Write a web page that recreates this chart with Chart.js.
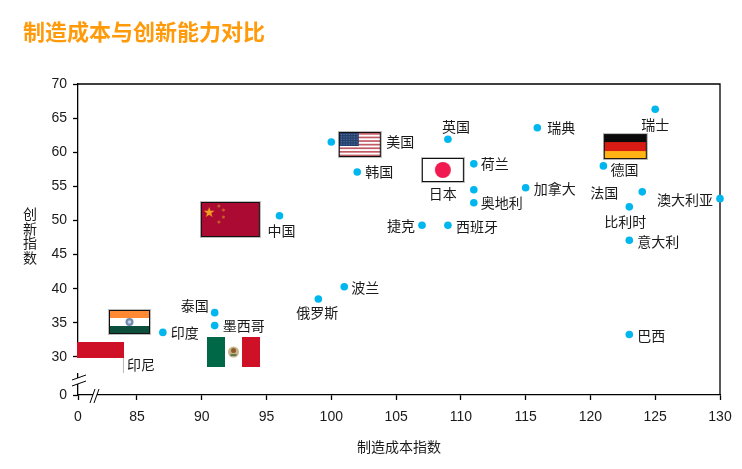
<!DOCTYPE html>
<html>
<head>
<meta charset="utf-8">
<title>制造成本与创新能力对比</title>
<script src="https://cdn.jsdelivr.net/npm/chart.js@4"></script>
<style>
  html, body { margin: 0; padding: 0; background: #fff; }
  canvas { display: block; }
</style>
</head>
<body>
<canvas id="grafico" width="742" height="469"></canvas>
<script>
// --- Datos ---
const paises = ['瑞士', '瑞典', '英国', '美国', '韩国', '荷兰', '德国', '加拿大', '日本', '奥地利', '法国', '比利时', '澳大利亚', '意大利', '巴西', '中国', '捷克', '西班牙', '波兰', '俄罗斯', '泰国', '墨西哥', '印度', '印尼'];
const costoManufactura = [125, 115.9, 109, 100, 102, 111, 121, 115, 111, 111, 124, 123, 130, 123, 123, 96, 107, 109, 101, 99, 91, 91, 87, 83];
const indiceInnovacion = [66.3, 63.6, 61.9, 61.5, 57.1, 58.3, 58, 54.8, 54.5, 52.6, 54.2, 52, 53.2, 47.1, 33.3, 50.7, 49.3, 49.3, 40.3, 38.5, 36.5, 34.6, 33.6, 30];

const ticksX = [85, 90, 95, 100, 105, 110, 115, 120, 125, 130];
const ticksY = [30, 35, 40, 45, 50, 55, 60, 65, 70];

// Centro de cada bandera, en unidades del gráfico
const banderas = ['中国', '美国', '日本', '德国', '印度', '印尼', '墨西哥'];
const banderasX = [92.21, 102.2, 108.61, 122.69, 84.42, 82.18, 92.45];
const banderasY = [50.15, 61.14, 57.4, 60.84, 35.13, 29.93, 30.73];

// El eje está cortado: el "0" se dibuja en el inicio de cada escala
const inicioX = 80.45;
const inicioY = 24.43;

// --- Estilos ---
const FUENTE_CJK = '"Noto Sans CJK SC", "Noto Sans", sans-serif';
const FUENTE_NUM = '"Liberation Sans", Arial, sans-serif';

// Desplazamiento (px) del texto respecto al punto
const offsetsEtiquetas = {
    '瑞士': [-14, 15], '瑞典': [10, 0], '英国': [-6, -13], '美国': [55, 0], '韩国': [8, 0],
    '荷兰': [7, 0], '德国': [7, 4], '加拿大': [8, 1], '日本': [-45, 4], '奥地利': [7, 0],
    '法国': [-52, 1], '比利时': [-25, 15], '澳大利亚': [-63, 1], '意大利': [8, 1], '巴西': [8, 1],
    '中国': [-12, 15], '捷克': [-35, 0], '西班牙': [8, 1], '波兰': [7, 1], '俄罗斯': [-22, 14],
    '泰国': [-34, -7], '墨西哥': [8, 0], '印度': [8, 0], '印尼': [16, 8]
};

// --- Banderas (se usan como pointStyle) ---
function lienzo(w, h, dibujar) {
    const c = document.createElement('canvas');
    c.width = w;
    c.height = h;
    dibujar(c.getContext('2d'), w, h);
    return c;
}

function marco(ctx, w, h) {
    ctx.strokeStyle = '#bdbdbd';
    ctx.lineWidth = 1;
    ctx.strokeRect(0.5, 0.5, w - 1, h - 1);
    ctx.strokeStyle = '#111';
    ctx.strokeRect(1.5, 1.5, w - 3, h - 3);
}

function crearBandera(nombre) {
    if (nombre === '中国') return lienzo(61, 37, (ctx, w, h) => {
        ctx.fillStyle = '#ab0a33';
        ctx.fillRect(0, 0, w, h);
        ctx.fillStyle = '#f0a020';
        ctx.font = '14px ' + FUENTE_NUM;
        ctx.textAlign = 'center';
        ctx.textBaseline = 'middle';
        ctx.fillText('★', 9.5, 12);
        ctx.fillStyle = '#c9602a';
        [[19, 5], [23.5, 9], [23.5, 16], [19, 21]].forEach(p => {
            ctx.beginPath();
            ctx.arc(p[0], p[1], 1.5, 0, Math.PI * 2);
            ctx.fill();
        });
        marco(ctx, w, h);
    });
    if (nombre === '美国') return lienzo(44, 27, (ctx, w, h) => {
        ctx.fillStyle = '#fff';
        ctx.fillRect(0, 0, w, h);
        ctx.fillStyle = '#c25a66';
        for (let i = 0; i < 7; i++) ctx.fillRect(0, 2 + i * 3.6, w, 1.7);
        ctx.fillStyle = '#24406f';
        ctx.fillRect(0, 0, 21, 15);
        ctx.fillStyle = '#6f82a6';
        for (let fila = 0; fila < 5; fila++) {
            for (let col = 0; col < 7; col++) ctx.fillRect(3 + col * 2.6, 3 + fila * 2.4, 1, 1);
        }
        marco(ctx, w, h);
    });
    if (nombre === '日本') return lienzo(44, 26, (ctx, w, h) => {
        ctx.fillStyle = '#fff';
        ctx.fillRect(0, 0, w, h);
        ctx.fillStyle = '#f01a50';
        ctx.beginPath();
        ctx.arc(w / 2, h / 2, 8, 0, Math.PI * 2);
        ctx.fill();
        marco(ctx, w, h);
    });
    if (nombre === '德国') return lienzo(45, 27, (ctx, w, h) => {
        ctx.fillStyle = '#0a0a0a';
        ctx.fillRect(0, 0, w, 9);
        ctx.fillStyle = '#d81c14';
        ctx.fillRect(0, 9, w, 9);
        ctx.fillStyle = '#ffb314';
        ctx.fillRect(0, 18, w, 9);
        marco(ctx, w, h);
    });
    if (nombre === '印度') return lienzo(43, 26, (ctx, w, h) => {
        ctx.fillStyle = '#ff8a33';
        ctx.fillRect(0, 0, w, 9);
        ctx.fillStyle = '#fff';
        ctx.fillRect(0, 9, w, 9);
        ctx.fillStyle = '#0b4f3c';
        ctx.fillRect(0, 17, w, 9);
        ctx.fillStyle = '#6f8cb0';
        ctx.beginPath();
        ctx.arc(w / 2, 13, 4, 0, Math.PI * 2);
        ctx.fill();
        ctx.fillStyle = '#c7d2e0';
        ctx.beginPath();
        ctx.arc(w / 2, 13, 1.8, 0, Math.PI * 2);
        ctx.fill();
        marco(ctx, w, h);
    });
    if (nombre === '印尼') return lienzo(47, 31, (ctx, w, h) => {
        ctx.fillStyle = '#fff';
        ctx.fillRect(0, 0, w, h);
        ctx.fillStyle = '#ce1126';
        ctx.fillRect(0, 0, w, 16);
        ctx.fillStyle = '#bdbdbd';
        ctx.fillRect(w - 1, 16, 1, h - 16);
    });
    return lienzo(53, 30, (ctx, w, h) => {
        ctx.fillStyle = '#fff';
        ctx.fillRect(0, 0, w, h);
        ctx.fillStyle = '#006847';
        ctx.fillRect(0, 0, 18, h);
        ctx.fillStyle = '#ce1126';
        ctx.fillRect(35, 0, 18, h);
        ctx.fillStyle = '#c9b48a';
        ctx.beginPath();
        ctx.arc(26.5, 15, 5.5, 0, Math.PI * 2);
        ctx.fill();
        ctx.fillStyle = '#8a5a2b';
        ctx.beginPath();
        ctx.arc(26.5, 13.5, 2.5, 0, Math.PI * 2);
        ctx.fill();
        ctx.fillStyle = '#5c7a4a';
        ctx.fillRect(23.5, 17, 6, 2);
    });
}

// --- Plugins ---
const pluginMarco = {
    id: 'marco',
    beforeDatasetsDraw(chart) {
        const { ctx, chartArea: a } = chart;
        ctx.save();
        ctx.strokeStyle = '#000';
        ctx.lineWidth = 1.3;
        ctx.beginPath();
        ctx.moveTo(a.left, a.top);
        ctx.lineTo(a.right, a.top);
        ctx.lineTo(a.right, a.bottom);
        ctx.stroke();
        ctx.restore();
    }
};

const pluginTextos = {
    id: 'textos',
    afterDatasetsDraw(chart) {
        const { ctx, scales } = chart;
        ctx.save();
        ctx.fillStyle = '#1a1a1a';
        ctx.font = '14px ' + FUENTE_CJK;
        ctx.textAlign = 'left';
        ctx.textBaseline = 'middle';
        paises.forEach((p, i) => {
            const off = offsetsEtiquetas[p];
            ctx.fillText(p, scales.x.getPixelForValue(costoManufactura[i]) + off[0], scales.y.getPixelForValue(indiceInnovacion[i]) + off[1]);
        });

        // Título del eje Y, en vertical
        ctx.textAlign = 'center';
        '创新指数'.split('').forEach((c, i) => {
            ctx.fillText(c, 30, 213.5 + i * 14.7);
        });

        // Título principal
        ctx.fillStyle = '#ff9a0a';
        ctx.font = 'bold 22px ' + FUENTE_CJK;
        ctx.textAlign = 'left';
        ctx.fillText('制造成本与创新能力对比', 23, 32);
        ctx.restore();
    }
};

const pluginCortes = {
    id: 'cortes',
    afterDraw(chart) {
        const { ctx, chartArea: a } = chart;
        const raya = (x1, y1, x2, y2) => {
            ctx.beginPath();
            ctx.moveTo(x1, y1);
            ctx.lineTo(x2, y2);
            ctx.stroke();
        };
        ctx.save();
        // Hueco blanco sobre cada eje
        ctx.fillStyle = '#fff';
        ctx.fillRect(a.left - 1, a.bottom - 17, 2, 6);
        ctx.fillRect(a.left + 15, a.bottom - 1, 4, 2);
        ctx.strokeStyle = '#000';
        ctx.lineWidth = 1;
        raya(a.left - 6, a.bottom - 15, a.left + 8, a.bottom - 20);
        raya(a.left - 6, a.bottom - 9, a.left + 8, a.bottom - 14);
        raya(a.left + 12, a.bottom + 8, a.left + 17, a.bottom - 6);
        raya(a.left + 16, a.bottom + 8, a.left + 21, a.bottom - 6);
        ctx.restore();
    }
};

// --- Gráfico ---
const puntos = costoManufactura.map((x, i) => ({ x: x, y: indiceInnovacion[i] }));
const puntosBanderas = banderasX.map((x, i) => ({ x: x, y: banderasY[i] }));

new Chart(document.getElementById('grafico').getContext('2d'), {
    type: 'scatter',
    data: {
        datasets: [
            {
                label: '国旗',
                data: puntosBanderas,
                pointStyle: banderas.map(crearBandera),
                pointRadius: 20,
                clip: false,
                order: 0
            },
            {
                label: '国家',
                data: puntos,
                backgroundColor: '#00b6ee',
                borderColor: '#00b6ee',
                borderWidth: 0,
                pointRadius: 3.8,
                clip: false,
                order: 1
            }
        ]
    },
    options: {
        responsive: false,
        animation: false,
        events: [],
        layout: { padding: { top: 84, right: 22 } },
        plugins: {
            legend: { display: false },
            tooltip: { enabled: false }
        },
        scales: {
            x: {
                type: 'linear',
                min: inicioX,
                max: 130,
                afterFit: s => { s.height = 74; },
                afterBuildTicks: s => { s.ticks = [inicioX, ...ticksX].map(v => ({ value: v })); },
                grid: { drawOnChartArea: false, tickLength: 5, tickColor: '#000', tickWidth: 1.3 },
                border: { color: '#000', width: 1.3 },
                ticks: {
                    autoSkip: false,
                    maxRotation: 0,
                    padding: 9,
                    color: '#1a1a1a',
                    font: { family: FUENTE_NUM, size: 14 },
                    callback: v => (v === inicioX ? '0' : String(v))
                },
                title: {
                    display: true,
                    text: '制造成本指数',
                    color: '#1a1a1a',
                    font: { family: FUENTE_CJK, size: 14 },
                    padding: { top: 0, bottom: 14 }
                }
            },
            y: {
                type: 'linear',
                min: inicioY,
                max: 70,
                afterFit: s => { s.width = 78; },
                afterBuildTicks: s => { s.ticks = [inicioY, ...ticksY].map(v => ({ value: v })); },
                grid: { drawOnChartArea: false, tickLength: 5, tickColor: '#000', tickWidth: 1.3 },
                border: { color: '#000', width: 1.3 },
                ticks: {
                    autoSkip: false,
                    padding: 6,
                    color: '#1a1a1a',
                    font: { family: FUENTE_NUM, size: 14 },
                    callback: v => (v === inicioY ? '0' : String(v))
                }
            }
        }
    },
    plugins: [pluginMarco, pluginTextos, pluginCortes]
});
</script>
</body>
</html>
